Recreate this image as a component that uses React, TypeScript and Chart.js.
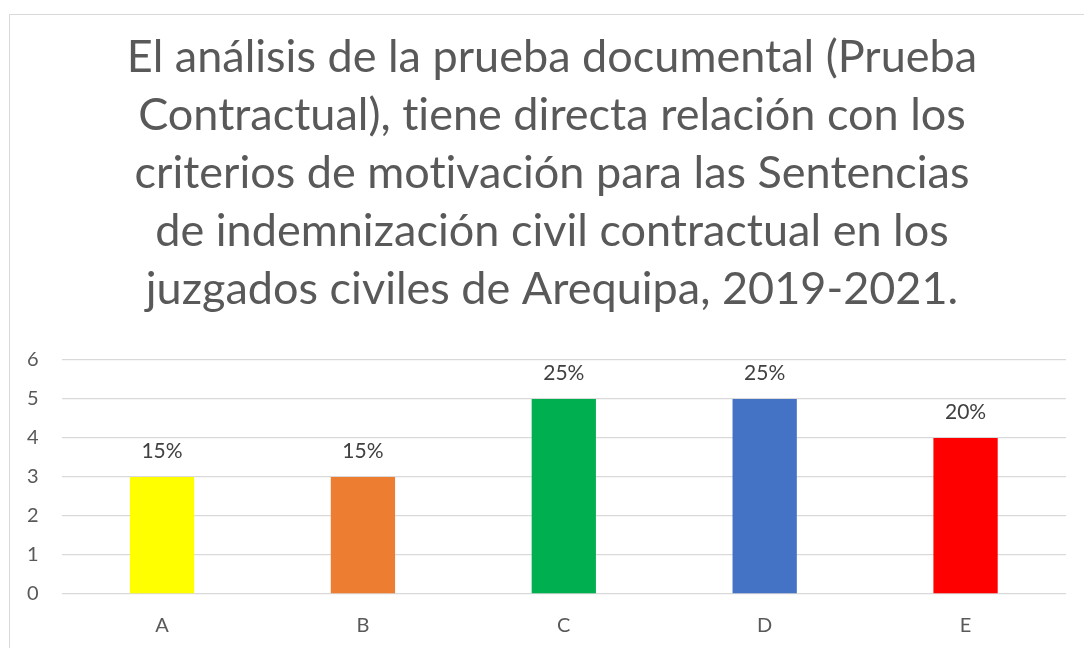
import React, { useEffect, useRef } from "react";
import { Chart, registerables } from "chart.js";

Chart.register(...registerables);

const TITLE_LINES = [
  "El análisis de la prueba documental (Prueba",
  "Contractual), tiene directa relación con los",
  "criterios de motivación para las Sentencias",
  "de indemnización civil contractual en los",
  "juzgados civiles de Arequipa, 2019-2021.",
];
const CATEGORIES = ["A", "B", "C", "D", "E"];
const VALUES = [3, 3, 5, 5, 4];
const PERCENT_LABELS = ["15%", "15%", "25%", "25%", "20%"];
const BAR_COLORS = ["#FFFF00", "#ED7D31", "#00B050", "#4472C4", "#FF0000"];
const Y_MIN = 0;
const Y_MAX = 6;
const Y_STEP = 1;

const FONT = "Lato, 'Open Sans', sans-serif";
const TITLE_SIZE = 45;
const TITLE_LINE_H = 58;
const TITLE_PAD_TOP = 10;
const TITLE_CENTER_X = 552;

const noLigaturePlugin = {
  id: "noLigatures",
  beforeDraw(chart: any) {
    try {
      chart.ctx.letterSpacing = "0.01px";
    } catch (e) {}
  },
};

// Title text is laid out by Chart.js's title box (transparent), then painted centred on the chart frame.
const centeredTitlePlugin = {
  id: "centeredTitle",
  afterDraw(chart: any) {
    const block = chart.titleBlock;
    if (!block) return;
    const ctx = chart.ctx;
    ctx.save();
    try {
      ctx.letterSpacing = "0.01px";
    } catch (e) {}
    ctx.font = `normal ${TITLE_SIZE}px ${FONT}`;
    ctx.fillStyle = "#595959";
    ctx.textAlign = "center";
    ctx.textBaseline = "middle";
    TITLE_LINES.forEach((line, i) => {
      ctx.fillText(line, TITLE_CENTER_X, block.top + TITLE_PAD_TOP + TITLE_LINE_H * (i + 0.5));
    });
    ctx.restore();
  },
};

const valueLabelPlugin = {
  id: "valueLabels",
  afterDatasetsDraw(chart: any) {
    const ctx = chart.ctx;
    const meta = chart.getDatasetMeta(0);
    ctx.save();
    ctx.font = `21px ${FONT}`;
    ctx.fillStyle = "#404040";
    ctx.textAlign = "center";
    ctx.textBaseline = "middle";
    meta.data.forEach((bar: any, i: number) => {
      ctx.fillText(PERCENT_LABELS[i], bar.x, bar.y - 26);
    });
    ctx.restore();
  },
};

export default function App() {
  const canvasRef = useRef<HTMLCanvasElement | null>(null);

  useEffect(() => {
    if (!canvasRef.current) return;
    const chart = new Chart(canvasRef.current, {
      type: "bar",
      data: {
        labels: CATEGORIES,
        datasets: [
          {
            data: VALUES,
            backgroundColor: BAR_COLORS,
            borderWidth: 0,
            barPercentage: 0.32,
            categoryPercentage: 1,
          },
        ],
      },
      options: {
        responsive: false,
        animation: false,
        devicePixelRatio: 1,
        layout: { padding: { top: 18, left: 4, right: 18, bottom: -10 } },
        plugins: {
          legend: { display: false },
          tooltip: { enabled: false },
          title: {
            display: true,
            text: TITLE_LINES,
            color: "rgba(0,0,0,0)",
            font: { family: FONT, size: TITLE_SIZE, weight: "normal", lineHeight: TITLE_LINE_H / TITLE_SIZE },
            padding: { top: TITLE_PAD_TOP, bottom: 42 },
          },
        },
        scales: {
          x: {
            grid: { display: false, drawTicks: false },
            border: { display: false },
            ticks: { color: "#595959", font: { family: FONT, size: 20 }, padding: 20 },
          },
          y: {
            min: Y_MIN,
            max: Y_MAX,
            grid: { color: "#d9d9d9", lineWidth: 1.3, drawTicks: false },
            border: { display: false },
            ticks: {
              stepSize: Y_STEP,
              color: "#595959",
              font: { family: FONT, size: 20 },
              padding: 23,
            },
          },
        },
      },
      plugins: [noLigaturePlugin, valueLabelPlugin, centeredTitlePlugin],
    });
    return () => chart.destroy();
  }, []);

  return (
    <div
      style={{
        position: "fixed",
        left: 0,
        top: 0,
        width: 1084,
        height: 648,
        overflow: "hidden",
        background: "#fff",
      }}
    >
      <div
        style={{
          position: "absolute",
          left: 9,
          top: 14,
          width: 1120,
          height: 700,
          border: "1px solid #d9d9d9",
          boxSizing: "border-box",
        }}
      />
      <canvas
        ref={canvasRef}
        width={1084}
        height={648}
        style={{ position: "absolute", left: 0, top: 0, width: 1084, height: 648 }}
      />
    </div>
  );
}
